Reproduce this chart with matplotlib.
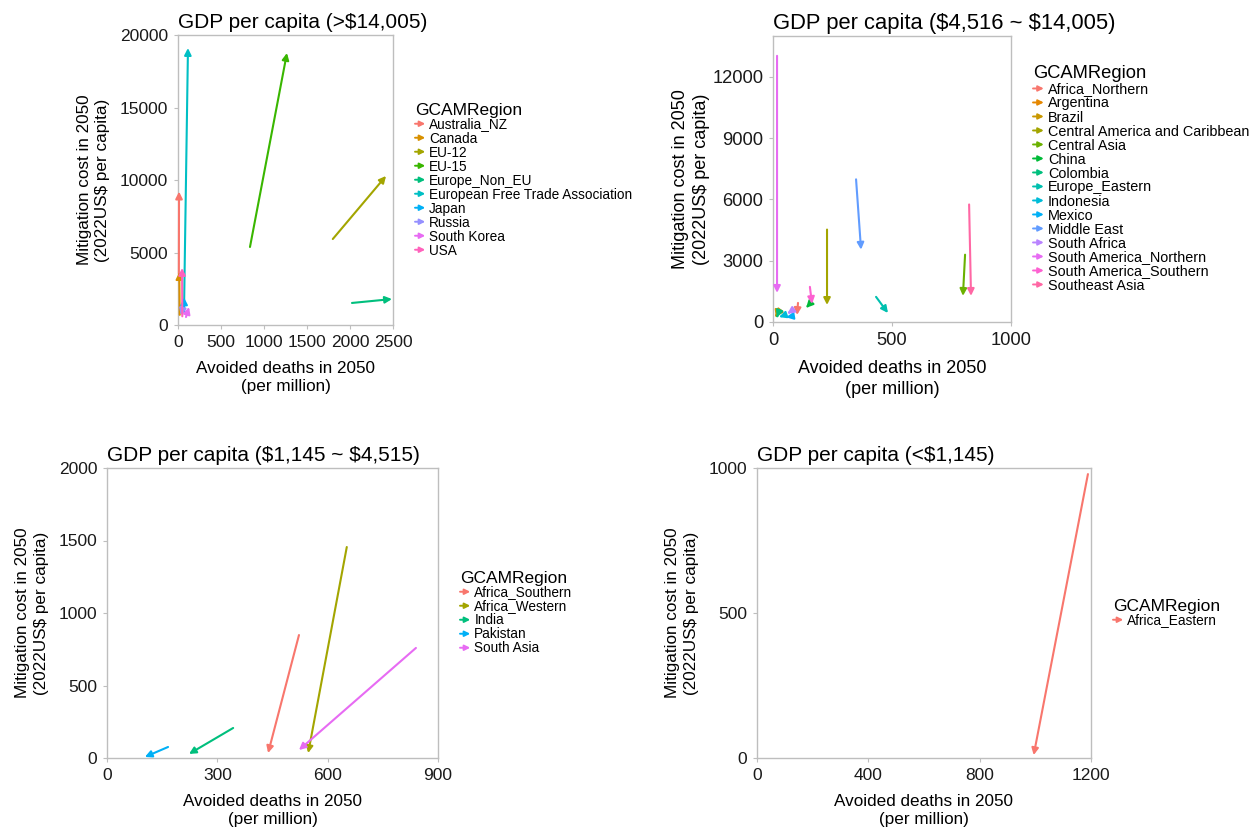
import numpy as np
import matplotlib.pyplot as plt
from matplotlib.lines import Line2D
from matplotlib.patches import FancyArrowPatch
from matplotlib.legend_handler import HandlerBase

plt.rcParams['font.family'] = ['Liberation Sans', 'DejaVu Sans']

# ---- data: arrow from (x0, y0) to (x1, y1) for each region ----
# panel 1: GDP per capita > $14,005
reg1 = ["Australia_NZ", "Canada", "EU-12", "EU-15", "Europe_Non_EU",
        "European Free Trade Association", "Japan", "Russia", "South Korea", "USA"]
x0_1 = [10, 20, 1800, 837, 2023, 70, 72, 45, 93, 50]
y0_1 = [3500, 700, 5930, 5380, 1520, 1030, 900, 900, 550, 600]
x1_1 = [12, 15, 2419, 1267, 2488, 116, 70, 35, 128, 47]
y1_1 = [9200, 3650, 10280, 18760, 1790, 19100, 1900, 650, 1240, 3930]

# panel 2: $4,516 ~ $14,005
reg2 = ["Africa_Northern", "Argentina", "Brazil", "Central America and Caribbean",
        "Central Asia", "China", "Colombia", "Europe_Eastern", "Indonesia", "Mexico",
        "Middle East", "South Africa", "South America_Northern",
        "South America_Southern", "Southeast Asia"]
x0_2 = [105, 15, 14, 227, 807, 147, 18, 433, 40, 70, 349, 70, 17, 155, 824]
y0_2 = [934, 350, 300, 4525, 3295, 790, 280, 1230, 300, 260, 6984, 480, 13030, 1720, 5754]
x1_2 = [101, 10, 12, 227, 798, 139, 16, 483, 25, 55, 370, 60, 17, 164, 832]
y1_2 = [344, 280, 230, 836, 1279, 690, 220, 440, 240, 230, 3541, 400, 1426, 885, 1279]

# panel 3: $1,145 ~ $4,515
reg3 = ["Africa_Southern", "Africa_Western", "India", "Pakistan", "South Asia"]
x0_3 = [522, 652, 343, 166, 840]
y0_3 = [848, 1455, 207, 76, 759]
x1_3 = [438, 547, 223, 103, 522]
y1_3 = [34, 34, 28, 7, 55]

# panel 4: < $1,145
reg4 = ["Africa_Eastern"]
x0_4 = [1189]
y0_4 = [979]
x1_4 = [994]
y1_4 = [10]

titles = [r"GDP per capita (>\$14,005)", r"GDP per capita (\$4,516 ~ \$14,005)",
          r"GDP per capita (\$1,145 ~ \$4,515)", r"GDP per capita (<\$1,145)"]

# ggplot default hue palettes
pal10 = ["#F8766D", "#D89000", "#A3A500", "#39B600", "#00BF7D",
         "#00BFC4", "#00B0F6", "#9590FF", "#E76BF3", "#FF62BC"]
pal15 = ["#F8766D", "#E58700", "#C99800", "#A3A500", "#6BB100", "#00BA38", "#00BF7D",
         "#00C0AF", "#00BCD8", "#00B0F6", "#619CFF", "#B983FF", "#E76BF3", "#FD61D1", "#FF67A4"]
pal5 = ["#F8766D", "#A3A500", "#00BF7D", "#00B0F6", "#E76BF3"]
pal1 = ["#F8766D"]


class HandlerArrow(HandlerBase):
    def create_artists(self, legend, orig_handle, xdescent, ydescent,
                       width, height, fontsize, trans):
        y = (height - ydescent) / 2.0
        a = FancyArrowPatch((-xdescent, y), (width - xdescent, y),
                            arrowstyle='-|>', mutation_scale=8, lw=1.4,
                            color=orig_handle.get_color(), shrinkA=0, shrinkB=0,
                            transform=trans)
        return [a]


W, H = 1257, 831
fig = plt.figure(figsize=(W / 100, H / 100), dpi=100)


def add_ax(l, t, r, b):
    return fig.add_axes([l / W, 1 - b / H, (r - l) / W, (b - t) / H])


# the second panel is drawn a little larger in the source image
panels = [
    (add_ax(178, 35, 393, 325), reg1, x0_1, y0_1, x1_1, y1_1, pal10,
     (0, 2500), np.arange(0, 2501, 500), (0, 20000), np.arange(0, 20001, 5000), 1.0, 7),
    (add_ax(773, 36, 1011, 322), reg2, x0_2, y0_2, x1_2, y1_2, pal15,
     (0, 1000), [0, 500, 1000], (0, 14000), np.arange(0, 12001, 3000), 1.055, 2),
    (add_ax(107, 468, 438, 758), reg3, x0_3, y0_3, x1_3, y1_3, pal5,
     (0, 900), [0, 300, 600, 900], (0, 2000), np.arange(0, 2001, 500), 1.0, 7),
    (add_ax(757, 468, 1091, 758), reg4, x0_4, y0_4, x1_4, y1_4, pal1,
     (0, 1200), [0, 400, 800, 1200], (0, 1000), [0, 500, 1000], 1.0, 7),
]

for i, (ax, regs, xs0, ys0, xs1, ys1, pal, xl, xt, yl, yt, sc, ypad) in enumerate(panels):
    ax.set_xlim(*xl)
    ax.set_ylim(*yl)
    ax.set_xticks(xt)
    ax.set_yticks(yt)
    for k in range(len(regs)):
        ax.annotate('', xy=(xs1[k], ys1[k]), xytext=(xs0[k], ys0[k]),
                    arrowprops=dict(arrowstyle='-|>', color=pal[k], lw=1.5,
                                    mutation_scale=10, shrinkA=0, shrinkB=0),
                    annotation_clip=False)
    for s in ax.spines.values():
        s.set_color('#BEBEBE')
        s.set_linewidth(1.0)
    ax.tick_params(colors='#BEBEBE', labelcolor='#1A1A1A', labelsize=12.5 * sc,
                   length=3, width=0.8, pad=4)
    ax.set_title(titles[i], loc='left', fontsize=15 * sc, pad=5)
    ax.set_xlabel("Avoided deaths in 2050\n(per million)", fontsize=12.3 * sc,
                  labelpad=8, linespacing=1.3)
    ax.set_ylabel("Mitigation cost in 2050\n(2022US$ per capita)", fontsize=12.3 * sc,
                  labelpad=ypad, linespacing=1.3)
    handles = [Line2D([], [], color=pal[k]) for k in range(len(regs))]
    width_px = ax.get_position().width * W
    leg = ax.legend(handles, regs, title="GCAMRegion", loc='center left',
                    bbox_to_anchor=(1 + 22 / width_px, 0.5), frameon=False,
                    fontsize=9.8 * sc, title_fontsize=12.5 * sc, handlelength=0.75,
                    handletextpad=0.3, labelspacing=0.0, borderpad=0,
                    borderaxespad=0, handler_map={Line2D: HandlerArrow()})
    leg._legend_box.align = 'left'

fig.savefig('out.png', dpi=100)
